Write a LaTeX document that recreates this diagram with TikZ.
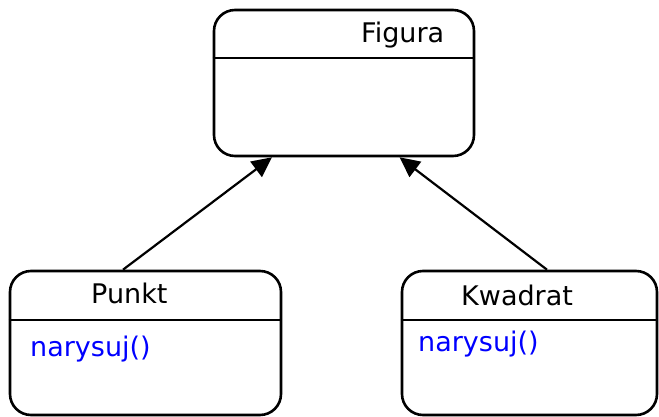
\documentclass[tikz,border=0pt]{standalone}
\usepackage{fontspec}
\setmainfont{DejaVu Sans}
\usetikzlibrary{arrows.meta}
\definecolor{methodblue}{RGB}{0,0,255}
\begin{document}
\begin{tikzpicture}[x=1pt,y=-1pt,
  cls/.style={draw=black,line width=2.6pt,rounded corners=21pt,inner sep=0pt,fill=white},
  divider/.style={line width=2.6pt},
  title/.style={anchor=base west,inner sep=0pt,font=\fontsize{27}{31}\selectfont},
  method/.style={title,text=methodblue},
  inherit/.style={line width=2.2pt,-{Triangle[length=20pt,width=19pt]}}]
\useasboundingbox (0,0) rectangle (659,417);
% classes
\node[cls,minimum width=260pt,minimum height=146pt] (figura) at (344,83) {};
\node[cls,minimum width=271pt,minimum height=144pt] (punkt) at (145.5,343) {};
\node[cls,minimum width=255pt,minimum height=144pt] (kwadrat) at (529.5,343) {};
% dividers
\draw[divider] (figura.west |- 0,58) -- (figura.east |- 0,58);
\draw[divider] (punkt.west |- 0,320) -- (punkt.east |- 0,320);
\draw[divider] (kwadrat.west |- 0,320) -- (kwadrat.east |- 0,320);
% texts
\node[title] (figuraT) at (361,43) {Figura};
\node[title] (punktT) at (91,303) {Punkt};
\node[title] (kwadratT) at (461,305.5) {Kwadrat};
\node[method] (punktM) at (30,356.5) {narysuj()};
\node[method] (kwadratM) at (418,351.5) {narysuj()};
% inheritance
\draw[inherit] ([xshift=-22.5pt]punkt.north) -- ([xshift=-72pt]figura.south);
\draw[inherit] ([xshift=17.5pt]kwadrat.north) -- ([xshift=55.5pt]figura.south);
\end{tikzpicture}
\end{document}
